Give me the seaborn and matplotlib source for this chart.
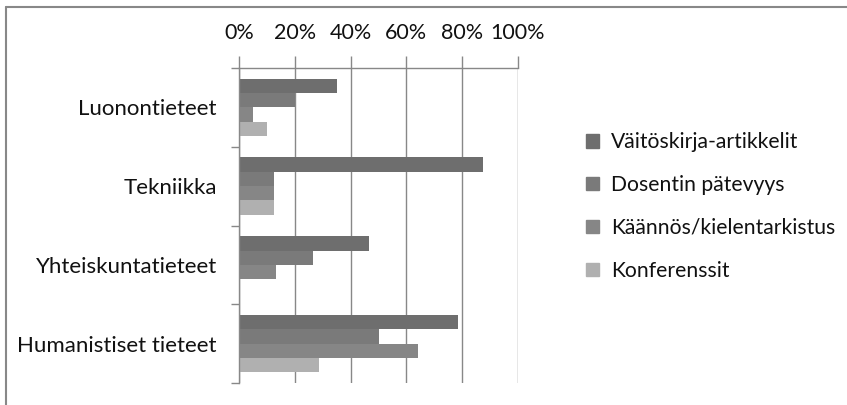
import pandas as pd
import numpy as np
import matplotlib.pyplot as plt
import seaborn as sns
from matplotlib.ticker import PercentFormatter, FixedLocator
from matplotlib.lines import Line2D

# Data (share of respondents, %)
categories = ['Luonontieteet', 'Tekniikka', 'Yhteiskuntatieteet', 'Humanistiset tieteet']
series = ['Väitöskirja-artikkelit', 'Dosentin pätevyys', 'Käännös/kielentarkistus', 'Konferenssit']
vaitoskirja = [35.0, 87.5, 46.7, 78.6]
dosentti = [20.0, 12.5, 26.7, 50.0]
kaannos = [5.0, 12.5, 13.3, 64.3]
konferenssit = [10.0, 12.5, 0.0, 28.6]
x_ticks = [0, 20, 40, 60, 80, 100]
colors = ['#6e6e6e', '#7a7a7a', '#868686', '#b0b0b0']

df = pd.DataFrame({
    'ala': categories * 4,
    'sarja': np.repeat(series, len(categories)),
    'osuus': vaitoskirja + dosentti + kaannos + konferenssit,
})

sns.set_theme(style='white')
plt.rcParams['font.family'] = ['Lato', 'DejaVu Sans']

fig = plt.figure(figsize=(8.47, 4.05), dpi=100)
ax = fig.add_axes([239 / 847, 1 - 383 / 405, 279 / 847, 315 / 405])

sns.barplot(data=df, y='ala', x='osuus', hue='sarja', order=categories,
            hue_order=series, palette=colors, orient='h', width=0.73,
            gap=0, linewidth=0, saturation=1, ax=ax)

ax.set_xlim(0, 100)
ax.set_ylim(len(categories) - 0.5, -0.5)
ax.set_xlabel('')
ax.set_ylabel('')

# x axis on top with percent labels
ax.xaxis.tick_top()
ax.set_xticks(x_ticks)
ax.xaxis.set_major_formatter(PercentFormatter(decimals=0))
ax.tick_params(axis='x', which='major', direction='out', length=9, width=1,
               color='#888888', pad=9, labelsize=15.5, labelcolor='#111111',
               top=True, bottom=False)
ax.grid(axis='x', color='#888888', linewidth=1)
ax.set_axisbelow(True)

# category labels centred, tick marks on the group boundaries
ax.yaxis.set_minor_locator(FixedLocator(np.arange(-0.5, len(categories), 1)))
ax.tick_params(axis='y', which='major', length=0, pad=16, labelsize=16,
               labelcolor='#111111')
ax.tick_params(axis='y', which='minor', direction='out', length=6, width=1,
               color='#888888', left=True)

for side in ['right', 'bottom']:
    ax.spines[side].set_visible(False)
for side in ['top', 'left']:
    ax.spines[side].set_color('#888888')
    ax.spines[side].set_linewidth(1)

# legend on the right
ax.legend_.remove()
handles = [plt.Rectangle((0, 0), 1, 1, color=c) for c in colors]
fig.legend(handles, series, loc='center left', bbox_to_anchor=(567 / 847, 0.49),
           frameon=False, fontsize=15.2, handlelength=0.6, handleheight=0.6,
           handletextpad=0.6, labelspacing=1.08, labelcolor='#111111')

# outer chart border (top and left edges visible)
fig.add_artist(Line2D([6 / 847, 1], [1 - 7 / 405, 1 - 7 / 405],
                      transform=fig.transFigure, color='#888888', linewidth=1.5))
fig.add_artist(Line2D([6 / 847, 6 / 847], [0, 1 - 7 / 405],
                      transform=fig.transFigure, color='#888888', linewidth=1.5))

fig.savefig('out.png', dpi=100, facecolor='white')
